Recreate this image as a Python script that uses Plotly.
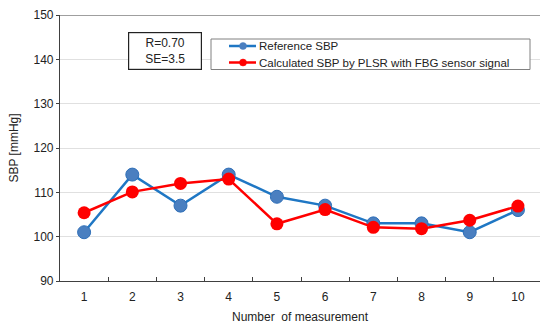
import plotly.graph_objects as go

measurements = ["1", "2", "3", "4", "5", "6", "7", "8", "9", "10"]
reference_sbp = [101, 114, 107, 114, 109, 107, 103, 103, 101, 106]
calculated_sbp = [105.4, 110.1, 112, 113, 102.9, 106.1, 102.1, 101.8, 103.7, 106.9]
y_ticks = [90, 100, 110, 120, 130, 140, 150]
series_names = ["Reference SBP", "Calculated SBP by PLSR with FBG sensor signal"]

BLUE_LINE, BLUE_FILL, RED = "#1f77c4", "#4a7fc0", "#ff0000"

# plot area geometry in pixels (used to place the key box)
L, R, T, B = 60, 540, 15, 281


def px(x):
    return (x - L) / (R - L)


def py(y):
    return (B - y) / (B - T)


fig = go.Figure()
fig.add_trace(go.Scatter(
    x=measurements, y=reference_sbp, name=series_names[0],
    mode="lines+markers", showlegend=False,
    line=dict(color=BLUE_LINE, width=2.5),
    marker=dict(color=BLUE_FILL, size=13, line=dict(color="#2f6fb8", width=1)),
))
fig.add_trace(go.Scatter(
    x=measurements, y=calculated_sbp, name=series_names[1],
    mode="lines+markers", showlegend=False,
    line=dict(color=RED, width=2.5),
    marker=dict(color=RED, size=13),
))

# dark frame line along the top of the plotting area
fig.add_shape(type="line", xref="paper", yref="y", x0=0, x1=1, y0=150, y1=150,
              line=dict(color="#404040", width=1.2))

# key box
fig.add_shape(type="rect", xref="paper", yref="paper",
              x0=px(211), x1=px(530), y0=py(39), y1=py(69.5),
              line=dict(color="#808080", width=1), fillcolor="white")
for name, row_y, lc, fc in [(series_names[0], 46, BLUE_LINE, BLUE_FILL),
                            (series_names[1], 62.5, RED, RED)]:
    fig.add_shape(type="line", xref="paper", yref="paper",
                  x0=px(229), x1=px(256), y0=py(row_y), y1=py(row_y),
                  line=dict(color=lc, width=2.5))
    fig.add_shape(type="circle", xref="paper", yref="paper",
                  x0=px(239.5), x1=px(246.5), y0=py(row_y - 3.5), y1=py(row_y + 3.5),
                  line=dict(color=fc, width=0.5), fillcolor=fc)
    fig.add_annotation(xref="paper", yref="paper", x=px(257), y=py(row_y),
                       text=name, showarrow=False, xanchor="left", yanchor="middle",
                       font=dict(family="Arial", size=11.5, color="#222222"))

fig.add_annotation(
    xref="paper", yref="paper", x=px(164.5), y=py(51.5),
    text="R=0.70<br>SE=3.5", showarrow=False,
    font=dict(family="Arial", size=12, color="#222222"),
    bordercolor="#222222", borderwidth=1.2, borderpad=3, bgcolor="white",
    width=66, align="center", xanchor="center", yanchor="middle",
)

fig.update_layout(
    width=540, height=327,
    margin=dict(l=L, r=540 - R, t=T, b=327 - B),
    paper_bgcolor="white", plot_bgcolor="white",
    font=dict(family="Arial", size=12, color="#222222"),
    showlegend=False,
    xaxis=dict(
        type="category", categoryorder="array", categoryarray=measurements,
        range=[-0.5, 9.458],
        showline=True, linecolor="#404040", linewidth=1.2,
        ticks="inside", tickson="boundaries", ticklen=4, tickcolor="#404040",
        showgrid=False, zeroline=False, ticklabelstandoff=4,
        tickfont=dict(size=12, color="#222222"),
        title=dict(text="Number  of measurement", font=dict(size=12), standoff=10),
    ),
    yaxis=dict(
        range=[90, 150], tickvals=y_ticks,
        showline=True, linecolor="#404040", linewidth=1.2,
        ticks="outside", ticklen=3, tickcolor="#404040",
        showgrid=True, gridcolor="#e0e0e0", gridwidth=1, zeroline=False,
        tickfont=dict(size=12, color="#222222"),
        title=dict(text="SBP [mmHg]", font=dict(size=12), standoff=12),
    ),
)

fig.write_html("out.html")
